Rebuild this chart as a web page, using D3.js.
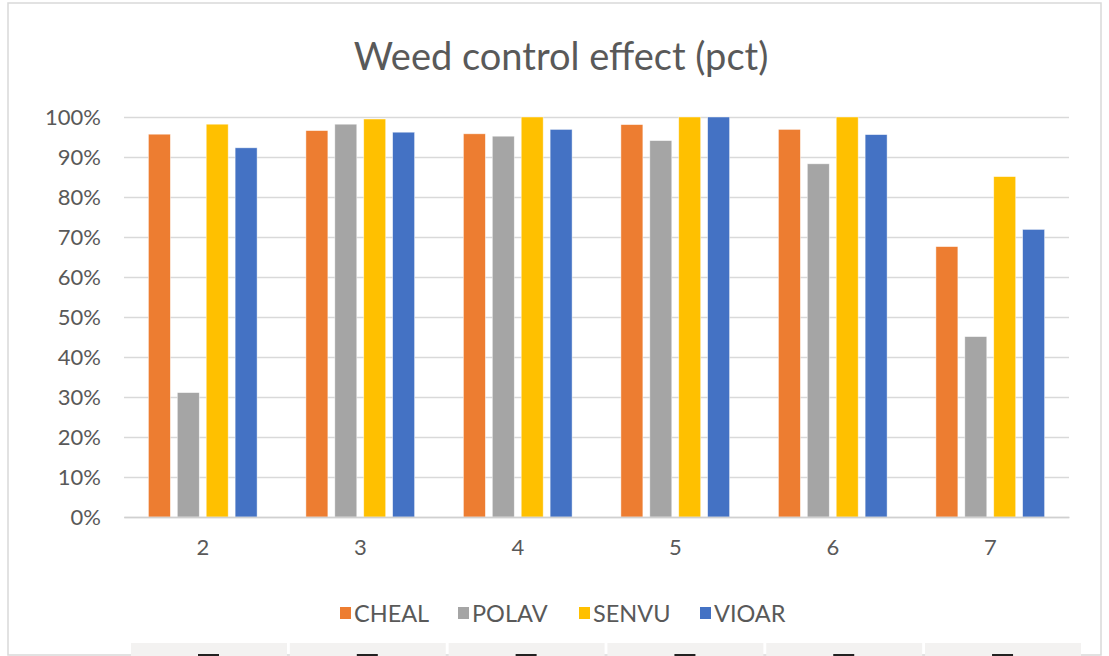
<!DOCTYPE html>
<html>
<head>
<meta charset="utf-8">
<script src="https://cdn.jsdelivr.net/npm/d3@7"></script>
<style>
  html, body { margin: 0; padding: 0; background: #fff; }
  svg { display: block; font-family: Lato, "Open Sans", sans-serif; }
</style>
</head>
<body>
<svg id="chart" width="1109" height="656"></svg>
<script>
// data
const categories = ['2', '3', '4', '5', '6', '7'];
const seriesNames = ['CHEAL', 'POLAV', 'SENVU', 'VIOAR'];
const cheal = [0.957, 0.966, 0.958, 0.981, 0.969, 0.676];
const polav = [0.311, 0.982, 0.952, 0.941, 0.883, 0.451];
const senvu = [0.982, 0.995, 1.0, 1.0, 1.0, 0.851];
const vioar = [0.923, 0.962, 0.969, 1.0, 0.956, 0.719];
const yTicks = [0, 0.1, 0.2, 0.3, 0.4, 0.5, 0.6, 0.7, 0.8, 0.9, 1.0];

const seriesValues = [cheal, polav, senvu, vioar];
const colors = ['#ED7D31', '#A5A5A5', '#FFC000', '#4472C4'];
const textColor = '#595959';
const gridColor = '#d9d9d9';

const svg = d3.select('#chart');

// outer chart frame
svg.append('rect')
  .attr('x', 8).attr('y', 3)
  .attr('width', 1093).attr('height', 652)
  .attr('fill', '#fff')
  .attr('stroke', gridColor)
  .attr('stroke-width', 1.5);

const plot = { left: 124, right: 1069, top: 117, bottom: 517 };

const x0 = d3.scaleBand()
  .domain(categories)
  .range([plot.left, plot.right])
  .padding(0);

const groupPad = (x0.bandwidth() - 108.7) / 2;
const x1 = d3.scaleBand()
  .domain(seriesNames)
  .range([groupPad, x0.bandwidth() - groupPad])
  .paddingInner(0.24)
  .paddingOuter(0);

const y = d3.scaleLinear()
  .domain([0, 1])
  .range([plot.bottom, plot.top]);

// title
svg.append('text')
  .attr('x', 561).attr('y', 70)
  .attr('text-anchor', 'middle')
  .attr('fill', textColor)
  .attr('font-size', 38)
  .text('Weed control effect (pct)');

// gridlines + y labels
const yAxis = d3.axisLeft(y)
  .tickValues(yTicks)
  .tickFormat(d3.format('.0%'))
  .tickSize(-(plot.right - plot.left))
  .tickPadding(23);

const gy = svg.append('g')
  .attr('transform', `translate(${plot.left},0)`)
  .call(yAxis);
gy.select('.domain').remove();
gy.selectAll('.tick line')
  .attr('stroke', gridColor)
  .attr('stroke-width', 1.5);
gy.selectAll('.tick text')
  .attr('fill', textColor)
  .attr('font-size', 22)
  .attr('font-family', 'Lato, sans-serif');

// bars
const groups = svg.append('g')
  .selectAll('g')
  .data(categories)
  .join('g')
  .attr('transform', d => `translate(${x0(d)},0)`);

groups.selectAll('rect')
  .data((c, i) => seriesNames.map((s, j) => ({ series: s, value: seriesValues[j][i], color: colors[j] })))
  .join('rect')
  .attr('x', d => x1(d.series))
  .attr('y', d => y(d.value))
  .attr('width', x1.bandwidth())
  .attr('height', d => y(0) - y(d.value))
  .attr('fill', d => d.color)
  .attr('stroke', '#fff')
  .attr('stroke-opacity', 0.6)
  .attr('stroke-width', 0.75);

// x axis
const xAxis = d3.axisBottom(x0).tickSize(0).tickPadding(22);
const gx = svg.append('g')
  .attr('transform', `translate(0,${plot.bottom})`)
  .call(xAxis);
gx.select('.domain')
  .attr('stroke', '#d0d0d0')
  .attr('stroke-width', 1.5);
gx.selectAll('.tick text')
  .attr('fill', textColor)
  .attr('font-size', 22)
  .attr('font-family', 'Lato, sans-serif');

// legend
const legendX = [340, 458, 579, 700];
const legend = svg.append('g')
  .selectAll('g')
  .data(seriesNames)
  .join('g')
  .attr('transform', (d, i) => `translate(${legendX[i]},613)`);
legend.append('rect')
  .attr('x', 0).attr('y', -6)
  .attr('width', 11).attr('height', 12)
  .attr('fill', (d, i) => colors[i]);
legend.append('text')
  .attr('x', 14).attr('y', 8.5)
  .attr('fill', textColor)
  .attr('font-size', 23.5)
  .text(d => d);

// cut-off data table strip at the bottom edge
const stripX = d3.scaleBand()
  .domain(categories)
  .range([131, 1081])
  .paddingInner(0.018);
const strip = svg.append('g');
strip.selectAll('rect.cell')
  .data(categories)
  .join('rect')
  .attr('class', 'cell')
  .attr('x', d => stripX(d))
  .attr('y', 643)
  .attr('width', stripX.bandwidth())
  .attr('height', 13)
  .attr('fill', '#f3f2f1');
strip.selectAll('rect.mark')
  .data(categories)
  .join('rect')
  .attr('class', 'mark')
  .attr('x', d => stripX(d) + 67)
  .attr('y', 654)
  .attr('width', 21)
  .attr('height', 2)
  .attr('fill', '#222');
</script>
</body>
</html>
